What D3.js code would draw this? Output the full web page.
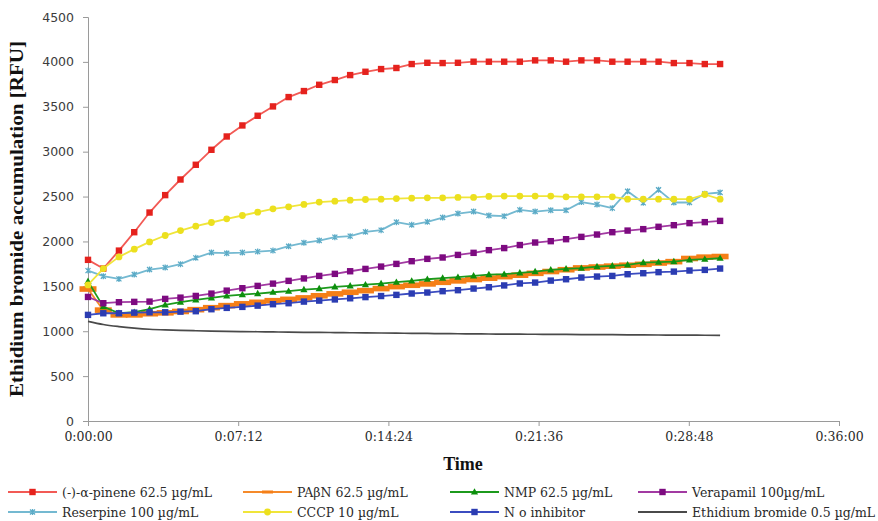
<!DOCTYPE html>
<html>
<head>
<meta charset="utf-8">
<script src="https://cdn.jsdelivr.net/npm/d3@7"></script>
<style>
  html, body { margin: 0; padding: 0; background: #fff; }
  svg { display: block; }
</style>
</head>
<body>
<svg id="chart" width="878" height="521"></svg>
<script>
// Sampling times (seconds after start)
const sampleTimes = [0,44,89,133,177,222,266,310,355,399,444,488,532,577,621,665,710,754,798,843,887,931,976,1020,1064,1109,1153,1197,1242,1286,1331,1375,1419,1464,1508,1552,1597,1641,1685,1730,1774,1818];

// Fluorescence readings [RFU] per condition
const pinene = [1795,1698,1898,2103,2322,2516,2690,2854,3021,3169,3292,3400,3504,3608,3675,3745,3798,3853,3890,3920,3932,3976,3990,3987,3990,4002,4002,4002,4002,4017,4017,4002,4017,4017,4002,4002,4002,4002,3987,3987,3976,3976];
const pabn = [1470,1235,1182,1182,1195,1205,1220,1240,1262,1285,1305,1322,1340,1355,1371,1395,1416,1434,1452,1475,1497,1512,1527,1545,1561,1576,1591,1608,1624,1645,1665,1685,1705,1715,1725,1735,1745,1760,1775,1810,1825,1832];
const nmp = [1555,1274,1200,1212,1245,1293,1323,1349,1371,1393,1408,1419,1434,1446,1464,1475,1494,1505,1518,1531,1546,1560,1579,1591,1602,1616,1631,1635,1650,1664,1683,1694,1702,1720,1728,1739,1765,1769,1776,1795,1802,1813];
const verapamil = [1382,1312,1323,1327,1330,1360,1374,1393,1419,1452,1479,1505,1530,1561,1588,1616,1639,1668,1694,1720,1750,1780,1806,1821,1850,1873,1903,1926,1960,1988,2003,2025,2051,2077,2103,2121,2137,2163,2181,2204,2215,2229];
const reserpine = [1675,1613,1583,1631,1687,1709,1747,1817,1876,1869,1876,1887,1898,1947,1985,2010,2048,2059,2107,2126,2215,2185,2218,2266,2311,2333,2289,2282,2352,2333,2348,2348,2438,2411,2371,2560,2430,2575,2434,2434,2531,2545];
const cccp = [1516,1698,1828,1914,1995,2066,2121,2170,2211,2252,2289,2326,2363,2386,2412,2438,2449,2460,2467,2471,2478,2482,2486,2486,2490,2490,2501,2505,2505,2505,2505,2497,2497,2497,2497,2471,2471,2471,2471,2471,2523,2471];
const noInhibitor = [1182,1200,1200,1207,1211,1211,1218,1223,1245,1260,1271,1285,1301,1312,1330,1341,1354,1367,1380,1392,1405,1420,1431,1446,1457,1475,1490,1510,1532,1542,1564,1579,1598,1609,1616,1635,1646,1658,1664,1676,1683,1698];
const ethidium = [1110,1075,1052,1035,1022,1014,1009,1005,1001,998,996,994,992,990,988,987,985,983,982,980,978,977,975,973,972,970,969,968,967,966,965,964,963,962,961,960,959,958,957,956,955,954];

// Axis ticks
const xTickSeconds = [0, 432, 864, 1296, 1728, 2160];
const xTickLabels = ["0:00:00", "0:07:12", "0:14:24", "0:21:36", "0:28:48", "0:36:00"];
const yTicks = [0, 500, 1000, 1500, 2000, 2500, 3000, 3500, 4000, 4500];

// Series in drawing order
const series = [
  { name: "(-)-α-pinene 62.5 µg/mL", values: pinene, line: "#f25a55", mark: "#e5221d", marker: "square", legend: [0, 0] },
  { name: "PAβN 62.5 µg/mL", values: pabn, line: "#f58a2a", mark: "#f57f17", marker: "dash", legend: [1, 0] },
  { name: "NMP 62.5 µg/mL", values: nmp, line: "#1c9a1c", mark: "#0d8f0d", marker: "triangle", legend: [2, 0] },
  { name: "Verapamil 100µg/mL", values: verapamil, line: "#a23aa2", mark: "#7d0a80", marker: "square", legend: [3, 0] },
  { name: "Reserpine 100 µg/mL", values: reserpine, line: "#74b9d1", mark: "#5aaac6", marker: "star", legend: [0, 1] },
  { name: "CCCP 10 µg/mL", values: cccp, line: "#f0e53a", mark: "#ece01e", marker: "circle", legend: [1, 1] },
  { name: "N o inhibitor", values: noInhibitor, line: "#3b4cc0", mark: "#2b3cb2", marker: "square", legend: [2, 1] },
  { name: "Ethidium bromide 0.5 µg/mL", values: ethidium, line: "#4a4a4a", mark: null, marker: null, legend: [3, 1], smooth: true }
];

const svg = d3.select("#chart");

const x = d3.scaleLinear().domain([0, 2160]).range([88, 839]);
const y = d3.scaleLinear().domain([0, 4500]).range([421, 17]);

// Y axis
const yAxis = svg.append("g")
  .attr("transform", `translate(${x(0)},0)`)
  .call(d3.axisLeft(y).tickValues(yTicks).tickFormat(d3.format("d")).tickSize(5).tickPadding(9));
yAxis.select(".domain").attr("stroke", "#9a9a9a");
yAxis.selectAll(".tick line").attr("stroke", "#9a9a9a");
yAxis.selectAll(".tick text")
  .attr("font-family", "DejaVu Sans, sans-serif")
  .attr("font-size", 12.5)
  .attr("fill", "#3c3c3c");

// X axis
const xAxis = svg.append("g")
  .attr("transform", `translate(0,${y(0)})`)
  .call(d3.axisBottom(x).tickValues(xTickSeconds)
    .tickFormat((d, i) => xTickLabels[i]).tickSize(5).tickPadding(6));
xAxis.select(".domain").attr("stroke", "#9a9a9a");
xAxis.selectAll(".tick line").attr("stroke", "#9a9a9a");
xAxis.selectAll(".tick text")
  .attr("font-family", "DejaVu Serif, serif")
  .attr("font-size", 12.5)
  .attr("fill", "#2a2a2a");

// Axis titles
svg.append("text")
  .attr("x", 463).attr("y", 470)
  .attr("text-anchor", "middle")
  .attr("font-family", "Liberation Serif, serif")
  .attr("font-weight", "bold")
  .attr("font-size", 18)
  .attr("fill", "#111")
  .text("Time");

svg.append("text")
  .attr("transform", "translate(23,219) rotate(-90)")
  .attr("text-anchor", "middle")
  .attr("font-family", "Liberation Serif, serif")
  .attr("font-weight", "bold")
  .attr("font-size", 18)
  .attr("textLength", 356)
  .attr("lengthAdjust", "spacingAndGlyphs")
  .attr("fill", "#111")
  .text("Ethidium bromide accumulation [RFU]");

// Marker drawing
function drawMarker(g, type, color, cx, cy) {
  if (type === "square") {
    g.append("rect").attr("x", cx - 3.2).attr("y", cy - 3.2)
      .attr("width", 6.4).attr("height", 6.4).attr("fill", color);
  } else if (type === "circle") {
    g.append("circle").attr("cx", cx).attr("cy", cy).attr("r", 3.4).attr("fill", color);
  } else if (type === "triangle") {
    g.append("path")
      .attr("d", `M${cx},${cy - 3.8}L${cx + 3.6},${cy + 2.6}L${cx - 3.6},${cy + 2.6}Z`)
      .attr("fill", color);
  } else if (type === "dash") {
    g.append("rect").attr("x", cx - 8.5).attr("y", cy - 2.8)
      .attr("width", 17).attr("height", 5.6).attr("fill", color);
  } else if (type === "star") {
    const r = 2.5;
    g.append("path")
      .attr("d", `M${cx - r},${cy - r}L${cx + r},${cy + r}M${cx - r},${cy + r}L${cx + r},${cy - r}M${cx},${cy - r - 0.5}L${cx},${cy + r + 0.5}`)
      .attr("stroke", color).attr("stroke-width", 1.3).attr("fill", "none");
  }
}

const plot = svg.append("g");
series.forEach(s => {
  const pts = s.values.map((v, i) => [sampleTimes[i], v]);
  const line = d3.line()
    .x(d => x(d[0])).y(d => y(d[1]))
    .curve(s.smooth ? d3.curveMonotoneX : d3.curveLinear);
  const g = plot.append("g");
  g.append("path")
    .datum(pts)
    .attr("d", line)
    .attr("fill", "none")
    .attr("stroke", s.line)
    .attr("stroke-width", s.smooth ? 1.7 : 1.8)
    .attr("stroke-linejoin", "round");
  if (s.marker) {
    pts.forEach(p => drawMarker(g, s.marker, s.mark, x(p[0]), y(p[1])));
  }
});

// Legend
const legendCols = [8, 243, 450, 638];
const legendRows = [492, 512];
const legend = svg.append("g");
series.forEach(s => {
  const lx = legendCols[s.legend[0]];
  const ly = legendRows[s.legend[1]];
  const g = legend.append("g");
  g.append("line")
    .attr("x1", lx).attr("x2", lx + 49)
    .attr("y1", ly).attr("y2", ly)
    .attr("stroke", s.line).attr("stroke-width", 1.8);
  if (s.marker) {
    if (s.marker === "dash") {
      g.append("rect").attr("x", lx + 19).attr("y", ly - 1.5)
        .attr("width", 11).attr("height", 3).attr("fill", s.mark);
    } else {
      drawMarker(g, s.marker, s.mark, lx + 24.5, ly);
    }
  }
  g.append("text")
    .attr("x", lx + 54).attr("y", ly + 4.5)
    .attr("font-family", "DejaVu Serif, serif")
    .attr("font-size", 12.5)
    .attr("fill", "#2a2a2a")
    .text(s.name);
});
</script>
</body>
</html>
